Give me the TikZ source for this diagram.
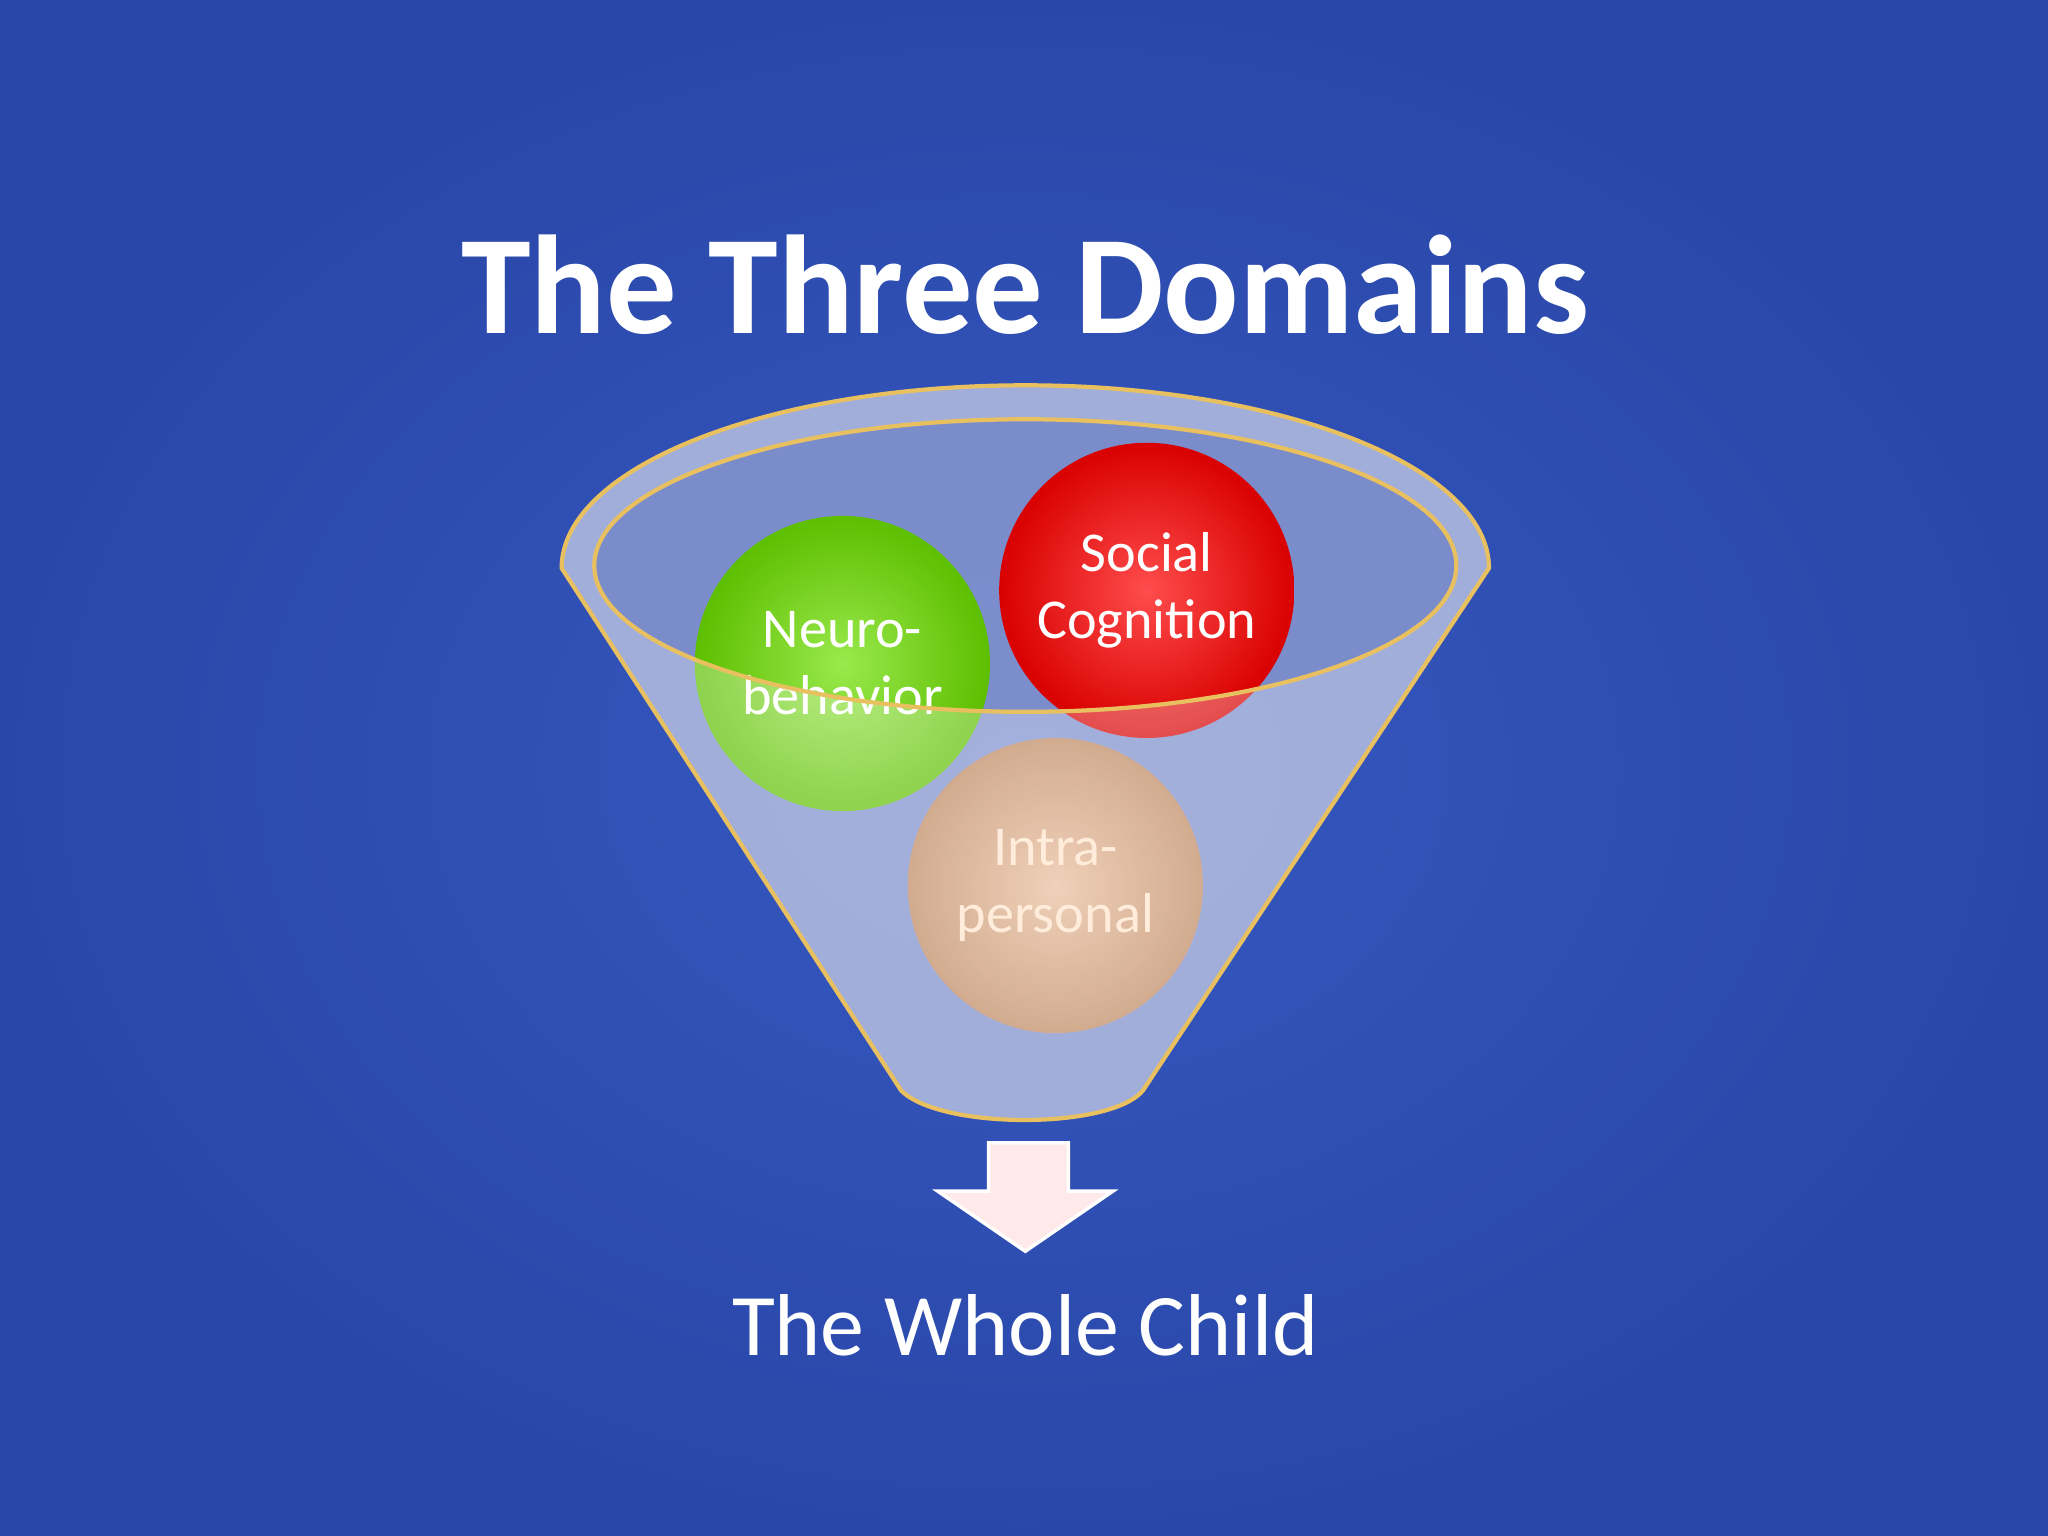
\documentclass[tikz,border=0pt]{standalone}
\usepackage{fontspec}
\setmainfont{Carlito}
\definecolor{bgA}{HTML}{2A47A8}
\definecolor{bgB}{HTML}{3659C2}
\definecolor{glass}{HTML}{8E9BD0}
\definecolor{rim}{HTML}{E8C060}
\definecolor{gball}{HTML}{6EE000}
\definecolor{rball}{HTML}{FF0000}
\definecolor{tball}{HTML}{E0A070}
\tikzset{ball/.style={circle,minimum size=226,inner sep=0pt,align=center,text=white,font=\fontsize{16}{19}\selectfont},
 glossy/.style={inner color=#1!70!white,outer color=#1!85!black}}
\begin{document}
\begin{tikzpicture}[x=0.013061cm,y=-0.013061cm]
\useasboundingbox (0,0) rectangle (1568,1176);
\shade[inner color=bgB,outer color=bgA] (0,0) rectangle (1568,1176);
\node[font=\bfseries\fontsize{40}{44}\selectfont,text=white] (title) at (785,218) {The Three Domains};
% funnel back
\path[fill=glass,fill opacity=0.8] (430,435) arc[start angle=180,end angle=360,x radius=355,y radius=140] -- (875,835) .. controls (850,865) and (720,865) .. (690,835) -- cycle;
% balls
\shade[glossy=gball] (645,508) circle (113);
\shade[glossy=rball] (878,452) circle (113);
\shade[glossy=tball] (808,678) circle (113);
\node[ball] (n1) at (645,508) {Neuro-\\behavior};
\node[ball] (n2) at (878,452) {Social\\Cognition};
\node[ball,text=white!80!orange] (n3) at (808,678) {Intra-\\personal};
% front glass outside inner ellipse
\begin{scope}[even odd rule]
\clip (0,0) rectangle (1568,1176) (785,433) ellipse (330 and 112);
\path[fill=white,fill opacity=0.3] (430,435) arc[start angle=180,end angle=360,x radius=355,y radius=140] -- (875,835) .. controls (850,865) and (720,865) .. (690,835) -- cycle;
\end{scope}
\draw[rim,line width=1.2pt] (430,435) arc[start angle=180,end angle=360,x radius=355,y radius=140] -- (875,835) .. controls (850,865) and (720,865) .. (690,835) -- cycle;
\draw[rim,line width=1.2pt] (785,433) ellipse (330 and 112);
% arrow
\path[fill=pink!35,draw=white,line width=1pt] (757,875) -- (818,875) -- (818,912) -- (852,912) -- (785,958) -- (718,912) -- (757,912) -- cycle;
\coordinate (arr) at (785,958);
\node[text=white,font=\fontsize{25}{30}\selectfont] (whole) at (785,1015) {The Whole Child};
\end{tikzpicture}
\end{document}
